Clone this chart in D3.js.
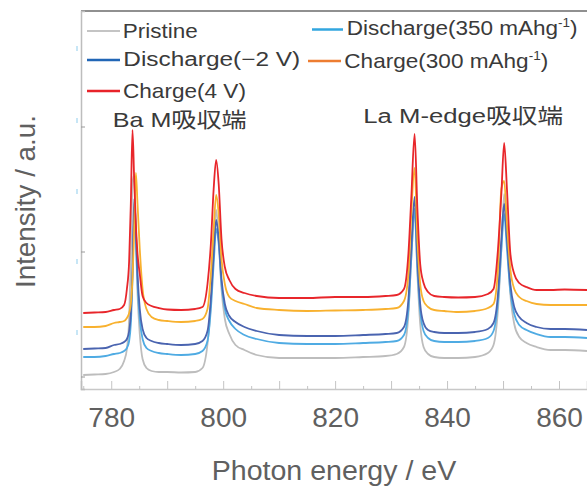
<!DOCTYPE html>
<html><head><meta charset="utf-8">
<script src="https://cdn.jsdelivr.net/npm/d3@7"></script>
<style>
html,body{margin:0;padding:0;background:#fff;}
svg{display:block;}
text{font-family:"Liberation Sans",Arial,"Noto Sans CJK JP",sans-serif;}
</style></head>
<body>
<svg id="chart" width="587" height="487"></svg>
<script>
// ---------- data ----------
const energy = [775, 777, 779, 780.5, 781.5, 782.3, 782.8, 783.2, 783.5, 783.8, 784.1, 784.4, 784.7, 785.1, 785.6, 786.3, 787.2, 788.5, 790, 792.5, 795, 796.3, 797.2, 797.8, 798.3, 798.75, 799.2, 799.7, 800.3, 801.1, 802.2, 803.8, 806, 810, 815, 820, 825, 829, 831, 832.3, 833.1, 833.6, 834.2, 834.7, 835.2, 835.8, 836.6, 837.7, 839.5, 842, 845, 847.3, 848.3, 849.1, 849.7, 850.2, 850.7, 851.3, 852, 852.9, 854.2, 856, 858.5, 861, 865];
const pristine = [14, 14.5, 15, 17, 20, 28, 40, 70, 130, 205, 214, 150, 95, 55, 30, 21, 18, 17, 17, 16.5, 17, 21, 45, 85, 145, 179, 150, 100, 70, 55, 44, 39, 34, 31, 31, 31, 32, 33, 35, 42, 75, 130, 180, 115, 65, 42, 35, 32, 31, 31, 32, 36, 44, 80, 140, 195, 150, 95, 65, 52, 46, 42, 39, 39, 38];
const discharge350 = [32, 32, 33, 35, 36, 38, 41, 48, 65, 110, 175, 150, 105, 70, 50, 41, 38, 36, 35, 34, 35, 38, 48, 80, 125, 160, 145, 105, 80, 68, 60, 54, 50, 46, 45, 45, 46, 47, 48, 54, 80, 130, 180, 120, 78, 58, 51, 48, 47, 47, 48, 51, 58, 88, 140, 175, 140, 98, 75, 64, 59, 55, 52, 52, 51];
const dischargeM2V = [40, 40.5, 41, 44, 45, 47, 50, 58, 75, 120, 190, 160, 115, 80, 60, 51, 48, 46, 45, 44, 45, 48, 58, 90, 135, 169, 150, 110, 85, 73, 67, 62, 58, 54, 53, 53, 54, 55, 56, 62, 90, 140, 192, 130, 85, 66, 59, 57, 56, 56, 57, 60, 66, 95, 150, 185, 150, 105, 82, 72, 66, 62, 60, 60, 59];
const charge300 = [62, 62, 63, 66, 67, 68, 71, 76, 85, 110, 160, 216, 185, 140, 100, 80, 72, 69, 68, 67, 68, 70, 80, 115, 160, 194, 175, 130, 105, 92, 88, 85, 81, 79, 78, 78.5, 79, 80, 81, 88, 115, 175, 221, 150, 105, 88, 82, 79, 78, 77, 78, 81, 85, 120, 200, 208, 165, 120, 100, 92, 88, 85, 84, 84, 84];
const charge4V = [76, 76.5, 77, 79, 80, 84, 100, 128, 185, 259, 210, 165, 135, 115, 93, 86, 83, 81, 79.5, 79, 80, 82, 105, 145, 200, 229, 205, 150, 122, 109, 100, 96, 93, 91, 91, 92, 92, 93, 94, 100, 136, 190, 255, 180, 125, 106, 97, 93, 92, 91.5, 92, 95, 100, 140, 195, 246, 200, 136, 115, 106, 102, 99, 99, 99.5, 99];

const xMajorTicks = [780, 790, 800, 810, 820, 830, 840, 850, 860];
const xMinorTicks = [775, 785, 795, 805, 815, 825, 835, 845, 855, 865];
const xLabelTicks = [780, 800, 820, 840, 860];
const yTicks = [12.5, 137.5, 262.5];
const yMarks = [56, 127, 197, 268, 340];

const seriesOrder = [
  {name:"Pristine", values:pristine, color:"#bdbdbd"},
  {name:"Discharge(350 mAhg-1)", values:discharge350, color:"#4fabe3"},
  {name:"Discharge(−2 V)", values:dischargeM2V, color:"#4a64b0"},
  {name:"Charge(300 mAhg-1)", values:charge300, color:"#f8b12f"},
  {name:"Charge(4 V)", values:charge4V, color:"#e8262b"}
];

// ---------- layout ----------
const svg = d3.select("#chart");
const L = 81, R = 587, T = 11, B = 389;
const x = d3.scaleLinear().domain([774.6, 865]).range([L, R]);
const y = d3.scaleLinear().domain([0, 378]).range([B, T]);

svg.append("defs").append("clipPath").attr("id","clip")
  .append("rect").attr("x",L).attr("y",T).attr("width",R-L).attr("height",B-T);

// frame: top line
svg.append("line").attr("x1",L).attr("x2",R).attr("y1",T).attr("y2",T)
  .attr("stroke","#6b6b6b").attr("stroke-width",1.5);

// x axis
const gx = svg.append("g").attr("transform",`translate(0,${B})`)
  .call(d3.axisBottom(x).tickValues(xMajorTicks).tickSize(-8).tickPadding(18)
    .tickFormat(d => xLabelTicks.includes(d) ? d : ""));
gx.select(".domain").attr("stroke","#c8c8c8").attr("stroke-width",1.5);
gx.selectAll(".tick line").attr("stroke","#c4c4c4");
gx.selectAll(".tick text").attr("fill","#606060").style("font-size","28px");
const gxm = svg.append("g").attr("transform",`translate(0,${B})`)
  .call(d3.axisBottom(x).tickValues(xMinorTicks).tickSize(-3).tickFormat(""));
gxm.select(".domain").remove();
gxm.selectAll(".tick line").attr("stroke","#c4c4c4");

// y axis
const gy = svg.append("g").attr("transform",`translate(${L},0)`)
  .call(d3.axisLeft(y).tickValues(yTicks).tickSize(-4).tickFormat(""));
gy.select(".domain").attr("stroke","#bdbdbd").attr("stroke-width",1.5);
gy.selectAll(".tick line").attr("stroke","#9a9a9a");
svg.append("g").selectAll("line").data(yMarks).join("line")
  .attr("x1",77).attr("x2",77).attr("y1",d=>y(d)-3).attr("y2",d=>y(d)+2)
  .attr("stroke","#b5def3").attr("stroke-width",1.5);

// curves
const line = d3.line().x((d,i)=>x(energy[i])).y(d=>y(d)).curve(d3.curveMonotoneX);
svg.append("g").attr("clip-path","url(#clip)").selectAll("path").data(seriesOrder).join("path")
  .attr("d", s => line(s.values)).attr("fill","none")
  .attr("stroke", s => s.color).attr("stroke-width",1.8).attr("stroke-linejoin","round");

// helper to fit text width
function placeText(parent, str, x0, y0, size, width, color, sup){
  const g = parent.append("g");
  const t = g.append("text").attr("x",0).attr("y",0).style("font-size",size+"px").attr("fill",color);
  if (sup){
    t.append("tspan").text(str);
    t.append("tspan").text("-1").style("font-size",(size*0.6)+"px").attr("dy",-8);
    t.append("tspan").text(")").attr("dy",8);
  } else t.text(str);
  const w = t.node().getBBox().width;
  g.attr("transform",`translate(${x0},${y0}) scale(${width/w},1)`);
  return g;
}

// legend
const legendLeft = [
  {label:"Pristine", color:"#8a8a8a", sw:1.2, ly:31, tx:122.7, ty:37.7, tw:75},
  {label:"Discharge(−2 V)", color:"#2166b6", sw:2.5, ly:60, tx:123.3, ty:65.7, tw:177},
  {label:"Charge(4 V)", color:"#e8232a", sw:2.5, ly:91, tx:123, ty:98.3, tw:123}
];
const legendRight = [
  {label:"Discharge(350 mAhg", color:"#32a6df", sw:2.5, ly:29.5, x1:312, x2:343, tx:346.7, ty:35, tw:231},
  {label:"Charge(300 mAhg", color:"#ed7d31", sw:2.5, ly:61, x1:308, x2:341, tx:344.3, ty:68.3, tw:204}
];
const lg = svg.append("g");
legendLeft.forEach(d=>{
  lg.append("line").attr("x1",87).attr("x2",120).attr("y1",d.ly).attr("y2",d.ly)
    .attr("stroke",d.color).attr("stroke-width",d.sw);
  placeText(lg, d.label, d.tx, d.ty, 20, d.tw, "#3a3a3a", false);
});
legendRight.forEach(d=>{
  lg.append("line").attr("x1",d.x1).attr("x2",d.x2).attr("y1",d.ly).attr("y2",d.ly)
    .attr("stroke",d.color).attr("stroke-width",d.sw);
  placeText(lg, d.label, d.tx, d.ty, 20, d.tw, "#3a3a3a", true);
});

// annotations
placeText(svg, "Ba M吸収端", 112.7, 126.7, 21, 134, "#3a3a3a", false);
placeText(svg, "La M-edge吸収端", 363.3, 122.5, 21, 200, "#3a3a3a", false);

// axis titles
placeText(svg, "Photon energy / eV", 211.7, 480, 28, 245, "#606060", false);
const yt = svg.append("g").attr("transform","translate(35,288) rotate(-90)");
placeText(yt, "Intensity / a.u.", 0, 0, 28, 173, "#606060", false);
</script>
</body></html>
